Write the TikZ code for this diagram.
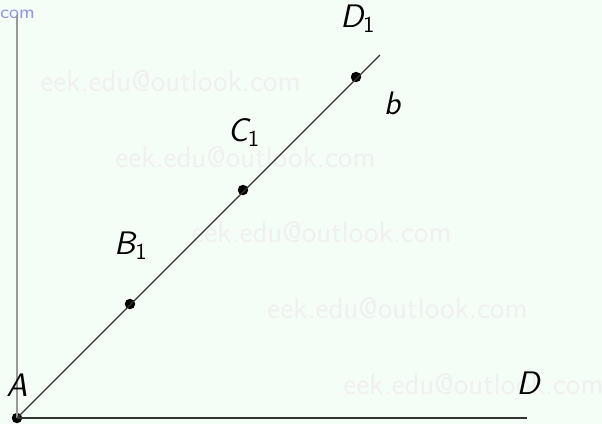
\documentclass[tikz,border=0pt]{standalone}
\usepackage{tikz}
\usetikzlibrary{positioning}
\usepackage{xcolor}
\definecolor{bgpale}{RGB}{244,254,246}
\definecolor{markblue}{RGB}{150,150,225}

\begin{document}
\begin{tikzpicture}[
  x=0.43pt, y=-0.43pt,
  font=\sffamily,
  every node/.style={align=center},
  lbl/.style={font=\sffamily\itshape\fontsize{14}{16}\selectfont},
  pt/.style={circle, fill=black, inner sep=0pt, minimum size=4.5pt},
  wm/.style={text=black!6, font=\sffamily\fontsize{12.8}{15}\selectfont, anchor=west, inner sep=0pt},
  seg/.style={draw=black!80, line width=0.5pt}
]
\fill[bgpale] (0,0) rectangle (602,424);
\useasboundingbox (0,0) rectangle (602,424);

% watermark
\node[wm] (w1) at (40,81) {eek.edu@outlook.com};
\node[wm] (w2) at (115,157) {eek.edu@outlook.com};
\node[wm] (w3) at (191,232) {eek.edu@outlook.com};
\node[wm] (w4) at (267,308) {eek.edu@outlook.com};
\node[wm] (w5) at (343,384) {eek.edu@outlook.com};
\node[anchor=west, inner sep=0pt, text=markblue, font=\sffamily\footnotesize] (wc) at (0,14) {com};

% points
\coordinate (top) at (17,15);
\coordinate (end) at (380,55);
\coordinate (right) at (527,418);
\node[pt] (A) at (17,418) {};
\node[pt] (B1) at (130,304) {};
\node[pt] (C1) at (243,190) {};
\node[pt] (D1) at (356,77) {};

\draw[draw=black!40, line width=0.5pt] (A.center) -- (top);
\draw[seg] (A.center) -- (right);
\draw[seg] (A.center) -- (end);

% labels
\node[lbl] (lA) at (17,385) {A};
\node[lbl] (lB) at (131,246) {B\textsubscript{\upshape 1}};
\node[lbl] (lC) at (244,133) {C\textsubscript{\upshape 1}};
\node[lbl] (lD1) at (358,19) {D\textsubscript{\upshape 1}};
\node[lbl] (lb) at (392,103) {b};
\node[lbl] (lD) at (528,383) {D};
\end{tikzpicture}
\end{document}
